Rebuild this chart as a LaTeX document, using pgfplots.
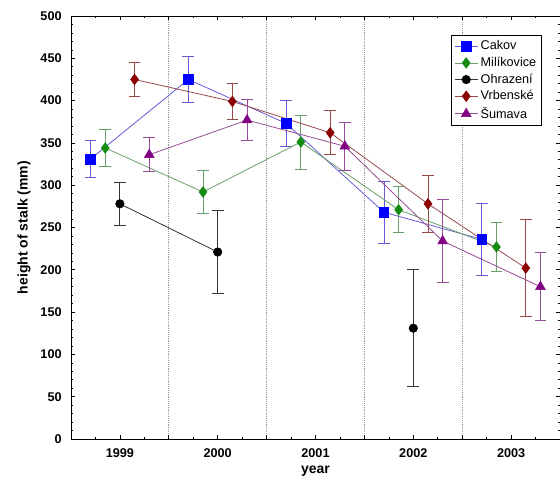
\documentclass[border=0pt]{standalone}
\usepackage{pgfplots}
\pgfplotsset{compat=1.18}
\usepackage{fontspec}
\setmainfont{Liberation Sans}

\definecolor{cakmark}{RGB}{0,0,255}
\definecolor{cakline}{RGB}{100,90,215}
\definecolor{milmark}{RGB}{20,140,20}
\definecolor{milline}{RGB}{105,160,105}
\definecolor{vrbmark}{RGB}{140,0,0}
\definecolor{vrbline}{RGB}{150,75,75}
\definecolor{summark}{RGB}{130,0,130}
\definecolor{sumline}{RGB}{150,75,150}

% x = year + offset, y = mean height, e = error
\pgfplotstableread{
x y e
1998.70 331 22
1999.70 425 27
2000.70 373 27
2001.70 268 37
2002.70 236 43
}\cakov
\pgfplotstableread{
x y e
1998.85 344 22
1999.85 292 25
2000.85 351 32
2001.85 271 27
2002.85 227 29
}\milikovice
\pgfplotstableread{
x y e
1999 278 25
2000 221 49
}\ohrazeniA
\pgfplotstableread{
x y e
2002 131 69
}\ohrazeniB
\pgfplotstableread{
x y e
1999.15 425 20
2000.15 399 21
2001.15 362 26
2002.15 278 34
2003.15 202 57
}\vrbenske
\pgfplotstableread{
x y e
1999.30 336 20
2000.30 377 24
2001.30 346 28
2002.30 234 49
2003.30 180 40
}\sumava

\begin{document}
\begin{tikzpicture}
\begin{axis}[
  name=ax,
  scale only axis,
  width=366.75pt, height=317.25pt,
  xmin=1998.5, xmax=2003.5,
  ymin=0, ymax=500,
  xtick={1999,2000,2001,2002,2003},
  minor xtick={1998.75,1999.25,1999.75,2000.25,2000.75,2001.25,2001.75,2002.25,2002.75,2003.25},
  ytick={0,50,...,500},
  minor y tick num=4,
  tick align=inside,
  major tick length=3pt,
  minor tick length=1.8pt,
  axis line style={line width=0.7pt},
  every tick/.style={black, line width=0.5pt},
  /pgf/number format/assume math mode=true,
  /pgf/number format/1000 sep={},
  tick label style={font=\bfseries\fontsize{9.5}{11}\selectfont},
  xticklabel style={yshift=-4pt},
  yticklabel style={xshift=-3.5pt},
  extra x ticks={1999.5,2000.5,2001.5,2002.5},
  extra x tick labels={},
  extra x tick style={grid=major, major grid style={densely dotted, gray!80, line width=0.5pt}},
  xlabel={\textbf{year}},
  ylabel={\textbf{height of stalk (mm)}},
  every axis x label/.style={at={(rel axis cs:0.5,0)}, yshift=-24pt, anchor=center,
    font=\bfseries\fontsize{10.5}{12}\selectfont},
  every axis y label/.style={at={(rel axis cs:0,0.5)}, xshift=-35.25pt, rotate=90, anchor=center,
    font=\bfseries\fontsize{10.5}{12}\selectfont},
  legend style={at={(rel axis cs:1,1)}, anchor=north east, xshift=-13.5pt, yshift=-14.25pt,
    font=\fontsize{9.5}{11}\selectfont, draw=black, line width=0.6pt, inner sep=2pt,
    row sep=0pt},
  legend cell align=left,
  error bars/y dir=both, error bars/y explicit,
]
\addplot[cakline, line width=0.6pt, mark=square*, mark size=3.6pt,
  mark options={fill=cakmark, draw=cakmark, line width=0.4pt},
  error bars/error bar style={cakline, line width=0.6pt},
  error bars/error mark options={rotate=90, mark size=4.4pt, cakline, line width=0.6pt}]
  table[x=x, y=y, y error=e] {\cakov};
\addlegendentry{Cakov}
\addplot[milline, line width=0.6pt, mark=diamond*, mark size=4pt,
  mark options={fill=milmark, draw=milmark, line width=0.4pt},
  error bars/error bar style={milline, line width=0.6pt},
  error bars/error mark options={rotate=90, mark size=4.4pt, milline, line width=0.6pt}]
  table[x=x, y=y, y error=e] {\milikovice};
\addlegendentry{Milíkovice}
\addplot[black!80, line width=0.6pt, mark=*, mark size=3.2pt,
  mark options={fill=black, draw=black, line width=0.4pt},
  error bars/error bar style={black!80, line width=0.6pt},
  error bars/error mark options={rotate=90, mark size=4.4pt, black!80, line width=0.6pt}]
  table[x=x, y=y, y error=e] {\ohrazeniA};
\addlegendentry{Ohrazení}
\addplot[vrbline, line width=0.6pt, mark=diamond*, mark size=4pt,
  mark options={fill=vrbmark, draw=vrbmark, line width=0.4pt},
  error bars/error bar style={vrbline, line width=0.6pt},
  error bars/error mark options={rotate=90, mark size=4.4pt, vrbline, line width=0.6pt}]
  table[x=x, y=y, y error=e] {\vrbenske};
\addlegendentry{Vrbenské}
\addplot[sumline, line width=0.6pt, mark=triangle*, mark size=4.2pt,
  mark options={fill=summark, draw=summark, line width=0.4pt},
  error bars/error bar style={sumline, line width=0.6pt},
  error bars/error mark options={rotate=90, mark size=4.4pt, sumline, line width=0.6pt}]
  table[x=x, y=y, y error=e] {\sumava};
\addlegendentry{Šumava}
\addplot[forget plot, black!80, line width=0.6pt, mark=*, mark size=3.2pt,
  mark options={fill=black, draw=black, line width=0.4pt},
  error bars/error bar style={black!80, line width=0.6pt},
  error bars/error mark options={rotate=90, mark size=4.4pt, black!80, line width=0.6pt}]
  table[x=x, y=y, y error=e] {\ohrazeniB};
\end{axis}
% page size as in the reference: 560x481 px at 0.75pt/px
\pgfresetboundingbox
\path ([shift={(-53.25pt,-31.5pt)}]ax.south west) rectangle ([shift={(0pt,12pt)}]ax.north east);
\end{tikzpicture}
\end{document}
